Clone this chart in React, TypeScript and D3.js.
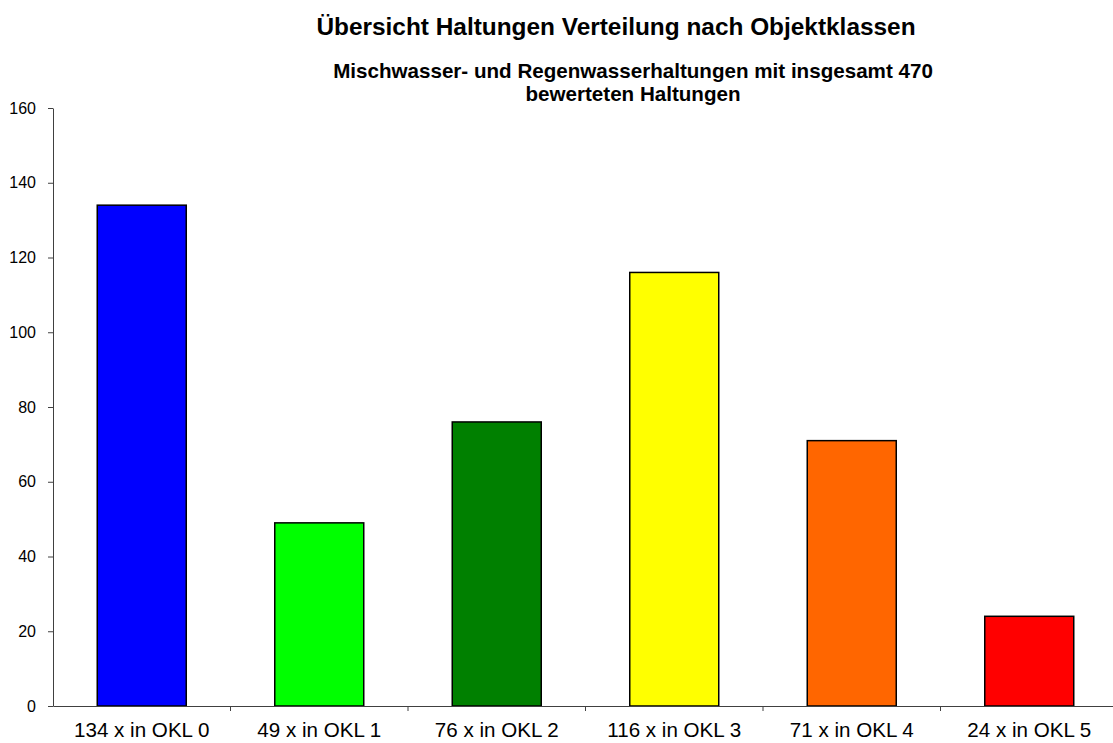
import { useEffect, useRef } from 'react';
import * as d3 from 'd3';

const categories = ['134 x in OKL 0', '49 x in OKL 1', '76 x in OKL 2', '116 x in OKL 3', '71 x in OKL 4', '24 x in OKL 5'];
const values = [134, 49, 76, 116, 71, 24];
const colors = ['#0000ff', '#00ff00', '#008000', '#ffff00', '#ff6600', '#ff0000'];
const yTicks = [0, 20, 40, 60, 80, 100, 120, 140, 160];

const title = 'Übersicht Haltungen Verteilung nach Objektklassen';
const subtitle = ['Mischwasser- und Regenwasserhaltungen mit insgesamt 470', 'bewerteten Haltungen'];

const App = () => {
  const svgRef = useRef<SVGSVGElement>(null);

  useEffect(() => {
    const svg = d3.select(svgRef.current);
    svg.selectAll('*').remove();

    const left = 53;
    const top = 108;
    const bottom = 706;
    const band = 177.5;

    const x = d3
      .scaleBand()
      .domain(categories)
      .range([left, left + band * categories.length])
      .paddingInner(0)
      .paddingOuter(0);

    const y = d3.scaleLinear().domain([0, 160]).range([bottom, top]);

    const font = 'Arial, "Liberation Sans", sans-serif';

    svg
      .append('text')
      .attr('x', 616)
      .attr('y', 35)
      .attr('text-anchor', 'middle')
      .attr('font-family', font)
      .attr('font-weight', 'bold')
      .attr('font-size', 24.4)
      .text(title);

    subtitle.forEach((line, i) => {
      svg
        .append('text')
        .attr('x', 633)
        .attr('y', 78 + i * 23)
        .attr('text-anchor', 'middle')
        .attr('font-family', font)
        .attr('font-weight', 'bold')
        .attr('font-size', 20.6)
        .text(line);
    });

    // bars
    svg
      .append('g')
      .selectAll('rect')
      .data(values)
      .enter()
      .append('rect')
      .attr('x', (d, i) => x(categories[i])! + band / 2 - 44.5)
      .attr('y', (d) => y(d))
      .attr('width', 89)
      .attr('height', (d) => bottom - y(d))
      .attr('fill', (d, i) => colors[i])
      .attr('stroke', '#000')
      .attr('stroke-width', 1.5);

    // y axis
    const yAxis = svg
      .append('g')
      .attr('transform', `translate(${left},0)`)
      .call(d3.axisLeft(y).tickValues(yTicks).tickSize(5).tickPadding(12).tickSizeOuter(0));
    yAxis.selectAll('text').attr('font-family', font).attr('font-size', 16).attr('fill', '#000');
    yAxis.selectAll('line, path').attr('stroke', '#404040');

    // x axis
    const xAxis = svg
      .append('g')
      .attr('transform', `translate(0,${bottom})`)
      .call(d3.axisBottom(x).tickSize(0).tickPadding(16).tickSizeOuter(0));
    xAxis.select('.domain').attr('stroke', '#404040');
    xAxis.selectAll('text').attr('font-family', font).attr('font-size', 20.6).attr('fill', '#000');

    // category separators
    svg
      .append('g')
      .selectAll('line')
      .data(categories.slice(1))
      .enter()
      .append('line')
      .attr('x1', (d) => x(d)!)
      .attr('x2', (d) => x(d)!)
      .attr('y1', bottom)
      .attr('y2', bottom + 5)
      .attr('stroke', '#404040');
  }, []);

  return (
    <svg
      ref={svgRef}
      width={1113}
      height={743}
      style={{ position: 'absolute', left: 0, top: 0, background: '#fff' }}
    />
  );
};

export default App;
